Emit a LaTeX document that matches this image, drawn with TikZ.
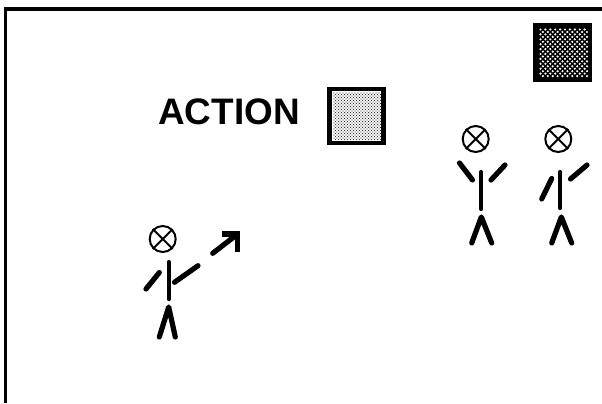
\documentclass[tikz,border=0pt]{standalone}
\usepackage{fontspec}
\setmainfont{Liberation Sans}
\usetikzlibrary{arrows.meta, positioning}

\begin{document}
\begin{tikzpicture}[
    x=0.02cm, y=-0.02cm,
    frameline/.style={line width=3.6*0.02cm, line cap=butt},
    limb/.style={line width=5.2*0.02cm, line cap=round},
    spine/.style={line width=4.2*0.02cm, line cap=round},
    head/.style={draw, circle, line width=2*0.02cm, minimum size=26*0.02cm, inner sep=0pt},
    headcross/.style={line width=2*0.02cm},
    swatch/.style={draw=black, rectangle, inner sep=0pt, minimum size=54*0.02cm}
]
\useasboundingbox (0,0) rectangle (602,403);

% frame, open on the right and at the bottom
\coordinate (top right) at (602,9);
\coordinate (corner) at (5.5,9);
\coordinate (bottom left) at (5.5,403);
\draw[frameline, line join=miter] (top right) -- (corner) -- (bottom left);

% label and the two squares
\node[font=\fontsize{21}{24}\selectfont\bfseries, inner sep=0pt] (action) at (229,112) {ACTION};
\node[swatch, fill=white, line width=4.5*0.02cm] (light) at (356.5,116) {};
\node[swatch, fill=black, line width=5*0.02cm] (dark) at (562.5,52) {};

\foreach \i in {0,...,9} \foreach \j in {0,...,9} {
    \fill[white] (540.5+\i*4.9,29.5+\j*4.9) circle[radius=1.2];
    \fill[white] (542.9+\i*4.9,32+\j*4.9) circle[radius=1.2];
}
\foreach \i in {0,...,15} \foreach \j in {0,...,15} {
    \fill[black!80] (334+\i*3,93+\j*3) circle[radius=0.72];
    \fill[black!80] (335.5+\i*3,94.5+\j*3) circle[radius=0.72];
}

% heads
\node[head] (h1) at (475.7,139) {};
\node[head] (h2) at (558.3,139) {};
\node[head] (h3) at (162.7,239) {};
\foreach \h in {h1,h2,h3} {
    \draw[headcross] (\h.45) -- (\h.225);
    \draw[headcross] (\h.135) -- (\h.315);
}

% figure with both arms up
\draw[limb] (459.5,163) -- (472.5,180);
\draw[limb] (505,165) -- (491,180);
\draw[spine] (481.3,172) -- (481.3,209);
\draw[limb, line join=round] (471.7,243) -- (481.3,217) -- (491.7,243);

% figure with one arm up
\draw[limb] (551.7,178.5) -- (541.7,199);
\draw[limb] (587,165) -- (570.5,179);
\draw[spine] (560.3,172) -- (560.3,208);
\draw[limb, line join=round] (551.7,243) -- (561.3,217) -- (571.7,243);

% figure pointing at the arrow
\draw[limb] (159.3,272.5) -- (146,289);
\draw[limb] (198,265.7) -- (174.5,282.3);
\draw[spine] (168.7,262) -- (168.7,299);
\draw[limb, line join=round] (159.3,337) -- (168.7,307) -- (175.3,337);

\coordinate (arrow tail) at (212.7,253.3);
\coordinate (arrow tip) at (237,234.5);
\draw[limb] (arrow tail) -- (arrow tip);
\draw[limb, line cap=butt, line join=miter] (221.5,234) -- (237.8,234) -- (237.8,251.5);
\end{tikzpicture}
\end{document}
